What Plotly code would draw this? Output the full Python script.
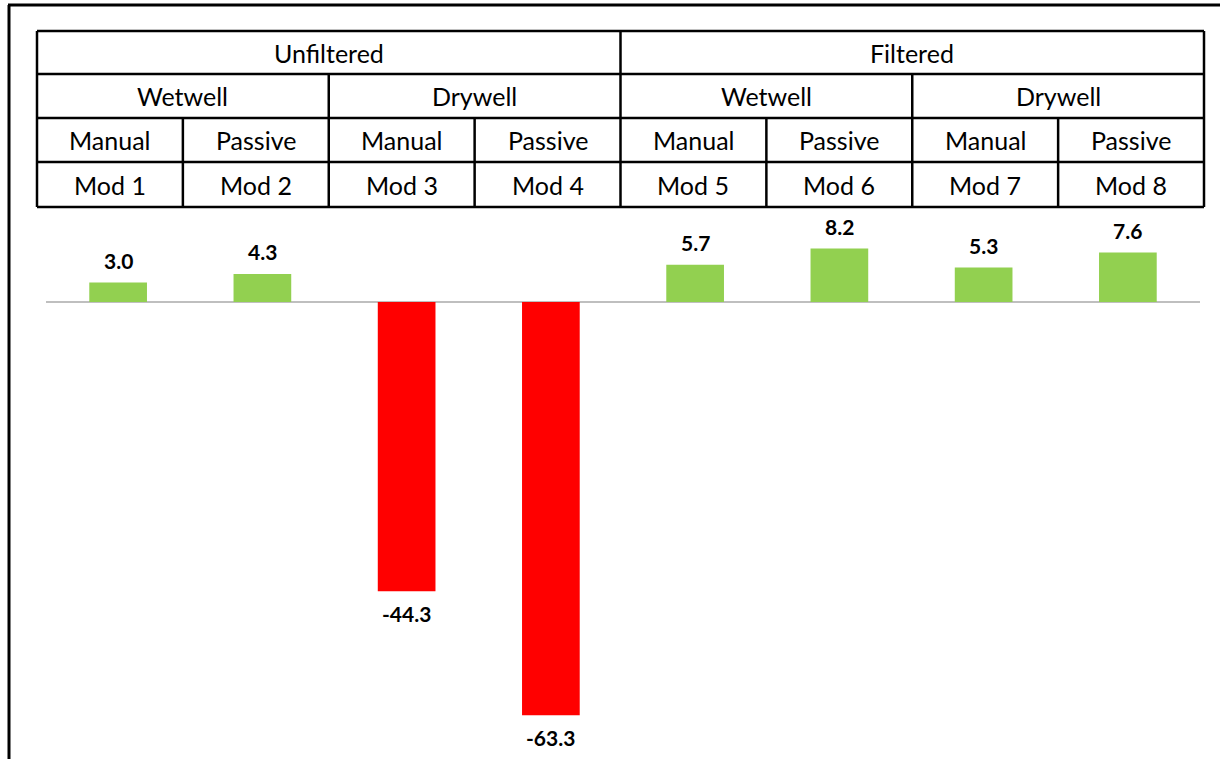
import plotly.graph_objects as go

# ---- data ----
mods = ["Mod 1", "Mod 2", "Mod 3", "Mod 4", "Mod 5", "Mod 6", "Mod 7", "Mod 8"]
values = [3.0, 4.3, -44.3, -63.3, 5.7, 8.2, 5.3, 7.6]
row1 = ["Unfiltered", "Filtered"]
row2 = ["Wetwell", "Drywell", "Wetwell", "Drywell"]
row3 = ["Manual", "Passive", "Manual", "Passive", "Manual", "Passive", "Manual", "Passive"]

W, H = 1225, 759
GREEN = "#92D050"
RED = "#FF0000"
FONT = "Lato"

def px(x):
    return x / W

def py(y):
    return 1 - y / H

colors = [GREEN if v >= 0 else RED for v in values]

fig = go.Figure()
fig.add_trace(go.Bar(x=mods, y=values, marker=dict(color=colors, line=dict(width=0)),
                     width=0.4, hoverinfo="x+y"))

annotations = []
for m, v in zip(mods, values):
    annotations.append(dict(x=m, y=v, xref="x", yref="y", text=f"<b>{v:.1f}</b>",
                            showarrow=False, yshift=22 if v >= 0 else -22,
                            font=dict(family=FONT, size=21, color="#000000"),
                            xanchor="center", yanchor="middle"))

# ---- header table ----
x0, x1 = 37, 1204
rows_y = [31, 74, 118, 162, 207]
cw = (x1 - x0) / 8
shapes = []
lw = 2.5
for y in rows_y:
    shapes.append(dict(type="line", xref="paper", yref="paper", x0=px(x0), x1=px(x1),
                       y0=py(y), y1=py(y), line=dict(color="black", width=lw)))
for k in range(9):
    xx = x0 + k * cw
    if k in (0, 4, 8):
        ys = rows_y[0]
    elif k in (2, 6):
        ys = rows_y[1]
    else:
        ys = rows_y[2]
    shapes.append(dict(type="line", xref="paper", yref="paper", x0=px(xx), x1=px(xx),
                       y0=py(ys), y1=py(rows_y[4]), line=dict(color="black", width=lw)))

# outer frame (top and left)
shapes.append(dict(type="line", xref="paper", yref="paper", x0=px(8), x1=px(1220),
                   y0=py(5), y1=py(5), line=dict(color="black", width=3)))
shapes.append(dict(type="line", xref="paper", yref="paper", x0=px(9), x1=px(9),
                   y0=py(5), y1=py(H + 5), line=dict(color="black", width=3)))

def cell_text(text, c0, span, r):
    cx = x0 + (c0 + span / 2) * cw
    cy = (rows_y[r] + rows_y[r + 1]) / 2
    annotations.append(dict(x=px(cx), y=py(cy), xref="paper", yref="paper", text=text,
                            showarrow=False, xanchor="center", yanchor="middle",
                            font=dict(family=FONT, size=25, color="#000000")))

for i, t in enumerate(row1):
    cell_text(t, i * 4, 4, 0)
for i, t in enumerate(row2):
    cell_text(t, i * 2, 2, 1)
for i, t in enumerate(row3):
    cell_text(t, i, 1, 2)
for i, t in enumerate(mods):
    cell_text(t, i, 1, 3)

fig.update_layout(
    width=W, height=H,
    margin=dict(l=0, r=0, t=0, b=0),
    paper_bgcolor="white", plot_bgcolor="white",
    showlegend=False,
    bargap=0.6,
    xaxis=dict(domain=[px(46), px(1200)], range=[-0.5, 7.5], showticklabels=False,
               showgrid=False, zeroline=False, showline=False, ticks=""),
    yaxis=dict(domain=[0, py(210)], range=[-70, 14.1], showticklabels=False,
               showgrid=False, zeroline=True, zerolinecolor="#BFBFBF", zerolinewidth=2,
               showline=False, ticks=""),
    shapes=shapes,
    annotations=annotations,
)

fig.write_html("out.html")
